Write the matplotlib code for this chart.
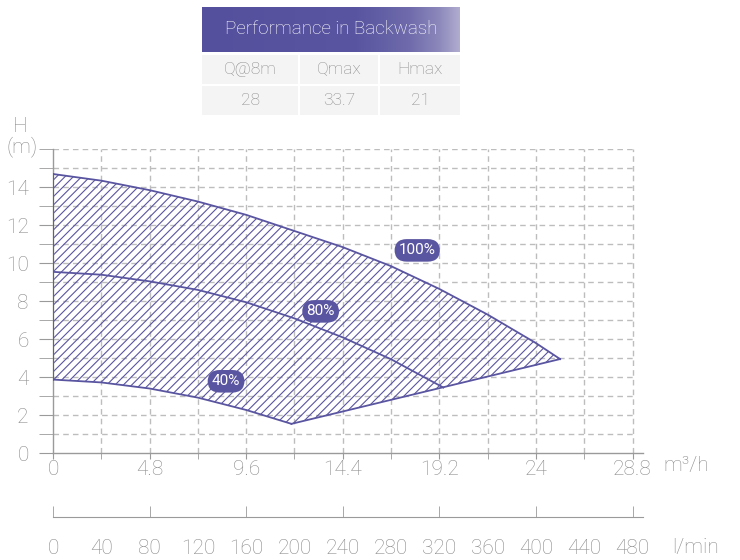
import matplotlib
matplotlib.use("Agg")
import matplotlib.pyplot as plt
import numpy as np
from matplotlib.colors import LinearSegmentedColormap
from matplotlib.patches import Rectangle

# ---------------- data ----------------
q_100 = [0, 2.4, 4.8, 7.2, 9.6, 12.0, 14.4, 16.8, 19.2, 21.6, 24.0, 25.2]
h_100 = [14.7, 14.35, 13.85, 13.25, 12.55, 11.7, 10.85, 9.85, 8.65, 7.3, 5.8, 4.96]
q_80 = [0, 2.4, 4.8, 7.2, 9.6, 12.0, 14.4, 16.8, 19.4]
h_80 = [9.55, 9.4, 9.05, 8.6, 7.95, 7.1, 6.1, 4.95, 3.46]
q_40 = [0, 2.4, 4.8, 7.2, 9.6, 11.85]
h_40 = [3.88, 3.73, 3.41, 2.93, 2.28, 1.55]

labels = ["100%", "80%", "40%"]
label_q = [18.1, 13.3, 8.6]
label_h = [10.68, 7.47, 3.79]

m3h_ticks = [0, 4.8, 9.6, 14.4, 19.2, 24, 28.8]
m3h_ticklabels = ["0", "4.8", "9.6", "14.4", "19.2", "24", "28.8"]
lmin_ticks = [0, 40, 80, 120, 160, 200, 240, 280, 320, 360, 400, 440, 480]
h_ticks = [0, 2, 4, 6, 8, 10, 12, 14]

table_title = "Performance in Backwash"
table_header = ["Q@8m", "Qmax", "Hmax"]
table_values = ["28", "33.7", "21"]

# ---------------- style ----------------
PURPLE = "#5a55a0"
GRAY_TXT = "#8a8a8a"
GRAY_LINE = "#9a9a9a"
GRID = "#bdbdbd"
FONT = ["Roboto", "DejaVu Sans"]
plt.rcParams["font.family"] = FONT
plt.rcParams["font.weight"] = "light"
plt.rcParams["hatch.linewidth"] = 0.8

W, H = 740, 560
fig = plt.figure(figsize=(7.4, 5.6), dpi=100)

XMAX = 29.32
ax = fig.add_axes([53 / W, 1 - 453.3 / H, 590 / W, 304 / H])
ax.set_xlim(0, XMAX)
ax.set_ylim(0, 16)

# grid
for xv in np.arange(2.4, 28.81, 2.4):
    ax.plot([xv, xv], [0, 16], color=GRID, lw=1, ls=(0, (4, 3)), zorder=1)
for yv in range(1, 17):
    ax.plot([0, 28.8], [yv, yv], color=GRID, lw=1, ls=(0, (4, 3)), zorder=1)

# hatched region
poly_x = list(q_100) + list(q_40[::-1])
poly_y = list(h_100) + list(h_40[::-1])
ax.fill(poly_x, poly_y, facecolor="none", edgecolor=PURPLE, lw=0, hatch="////", zorder=2)

# outlines
ax.plot(q_100, h_100, color=PURPLE, lw=1.3, zorder=3)
ax.plot(q_80, h_80, color=PURPLE, lw=1.3, zorder=3)
ax.plot(q_40, h_40, color=PURPLE, lw=1.3, zorder=3)
ax.plot([q_40[-1], q_100[-1]], [h_40[-1], h_100[-1]], color=PURPLE, lw=1.3, zorder=3)
ax.plot([0, 0], [h_40[0], h_100[0]], color=PURPLE, lw=1.3, zorder=4)

for t, xq, yh in zip(labels, label_q, label_h):
    ax.text(xq, yh, t, color="white", fontsize=11, fontweight="normal", ha="center", va="center",
            zorder=5,
            bbox=dict(boxstyle="round,pad=0.28,rounding_size=0.8", fc=PURPLE, ec="none"))

for s in ["top", "right"]:
    ax.spines[s].set_visible(False)
for s in ["left", "bottom"]:
    ax.spines[s].set_color(GRAY_LINE)
    ax.spines[s].set_linewidth(1)

ax.set_xticks(m3h_ticks)
ax.set_xticklabels(m3h_ticklabels)
ax.set_xticks(np.arange(0, 28.81, 2.4), minor=True)
ax.set_yticks(h_ticks)
ax.set_yticks([1, 3, 5, 7, 9, 11, 13, 15, 16], minor=True)
ax.tick_params(axis="x", which="both", direction="out", length=4, color=GRAY_LINE,
               labelsize=15, labelcolor=GRAY_TXT, pad=1)
ax.tick_params(axis="y", which="both", direction="out", length=10, color=GRAY_LINE,
               labelsize=15, labelcolor=GRAY_TXT, pad=7.5)
ax.patch.set_alpha(0)

fig.text(20 / W, 1 - 127 / H, "H", fontsize=15, color=GRAY_TXT, ha="center", va="center")
fig.text(22 / W, 1 - 147 / H, "(m)", fontsize=15, color=GRAY_TXT, ha="center", va="center")
fig.text(686 / W, 1 - 466 / H, "m³/h", fontsize=15, color=GRAY_TXT, ha="center", va="center")

# second axis l/min
ax2 = fig.add_axes([53 / W, 1 - 517 / H, 590 / W, 0.0001])
ax2.set_xlim(0, XMAX / 28.8 * 480)
ax2.set_ylim(0, 1)
ax2.patch.set_alpha(0)
for s in ["top", "right", "left"]:
    ax2.spines[s].set_visible(False)
ax2.spines["bottom"].set_color(GRAY_LINE)
ax2.set_yticks([])
ax2.xaxis.remove_overlapping_locs = False
ax2.set_xticks(lmin_ticks)
ax2.set_xticklabels([str(v) for v in lmin_ticks])
ax2.set_xticks(lmin_ticks[::2], minor=True)
ax2.tick_params(axis="x", which="major", length=0, labelsize=15, labelcolor=GRAY_TXT, pad=16)
ax2.tick_params(axis="x", which="minor", direction="in", length=8, color=GRAY_LINE)
fig.text(695 / W, 1 - 547 / H, "l/min", fontsize=15, color=GRAY_TXT, ha="center", va="center")

# ---------------- table ----------------
hx0, hx1, hy0, hy1 = 202, 460, 7, 52
hax = fig.add_axes([hx0 / W, 1 - hy1 / H, (hx1 - hx0) / W, (hy1 - hy0) / H])
cmap = LinearSegmentedColormap.from_list(
    "hdr", [(0, "#55509d"), (0.6, "#5955a0"), (0.8, "#6e6aab"), (0.92, "#8c88bb"), (1, "#b0accf")])
hax.imshow(np.linspace(0, 1, 256)[None, :], aspect="auto", cmap=cmap, extent=[0, 1, 0, 1])
hax.set_axis_off()
hax.text(0.5, 0.5, table_title, color="white", fontsize=13.5, ha="center", va="center")

cols = [(202, 298), (300, 378), (380, 460)]
rows = [(55, 84), (86, 115)]
for (ry0, ry1), row in zip(rows, [table_header, table_values]):
    for (cx0, cx1), txt in zip(cols, row):
        fig.patches.append(Rectangle((cx0 / W, 1 - ry1 / H), (cx1 - cx0) / W, (ry1 - ry0) / H,
                                     transform=fig.transFigure, fc="#f4f4f4", ec="none"))
        fig.text((cx0 + cx1) / 2 / W, 1 - (ry0 + ry1) / 2 / H, txt, fontsize=12.5,
                 color=GRAY_TXT, ha="center", va="center")

fig.savefig("out.png", dpi=100)
